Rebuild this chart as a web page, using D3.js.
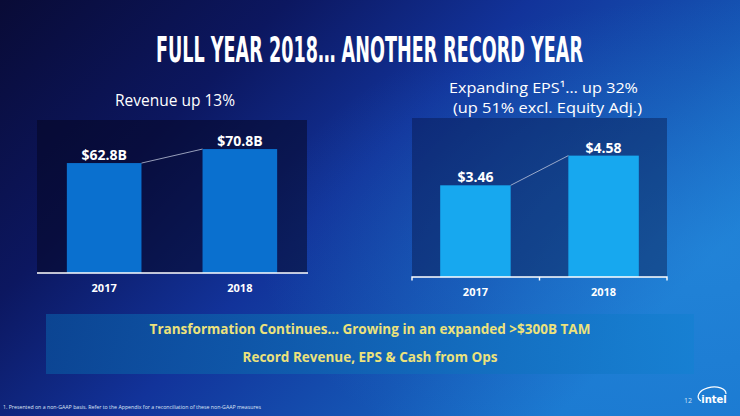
<!DOCTYPE html>
<html><head><meta charset="utf-8">
<script src="https://cdn.jsdelivr.net/npm/d3@7/dist/d3.min.js"></script>
<style>html,body{margin:0;padding:0;background:#0b0f40;}svg{display:block;}</style>
</head><body>
<div id="chart"></div>
<script>
// ---- data ----
const years = ["2017", "2018"];
const revenueValues = [62.8, 70.8];
const revenueLabels = ["$62.8B", "$70.8B"];
const epsValues = [3.46, 4.58];
const epsLabels = ["$3.46", "$4.58"];
const titleText = "FULL YEAR 2018… ANOTHER RECORD YEAR";
const revenueTitle = "Revenue up 13%";
const epsTitle1 = "Expanding EPS¹… up 32%";
const epsTitle2 = "(up 51% excl. Equity Adj.)";
const bannerLines = ["Transformation Continues… Growing in an expanded >$300B TAM", "Record Revenue, EPS & Cash from Ops"];
const footnote = "1. Presented on a non-GAAP basis. Refer to the Appendix for a reconciliation of these non-GAAP measures";
const pageNumber = "12";

const W = 740, H = 416;
const svg = d3.select("#chart").append("svg").attr("width", W).attr("height", H);
const defs = svg.append("defs");

const bg = defs.append("linearGradient").attr("id", "bg").attr("x1", 0).attr("y1", 0).attr("x2", 1).attr("y2", 0.55);
[[0, "#090b36"], [0.3, "#0c1760"], [0.55, "#12339a"], [0.8, "#1555b4"], [1, "#1a78d0"]].forEach(s => bg.append("stop").attr("offset", s[0]).attr("stop-color", s[1]));
const glow = defs.append("radialGradient").attr("id", "glow").attr("cx", 0.95).attr("cy", 0.6).attr("r", 0.6);
glow.append("stop").attr("offset", 0).attr("stop-color", "#2a90e0").attr("stop-opacity", 0.45);
glow.append("stop").attr("offset", 1).attr("stop-color", "#2a90e0").attr("stop-opacity", 0);
const ban = defs.append("linearGradient").attr("id", "ban").attr("x1", 0).attr("x2", 1);
ban.append("stop").attr("offset", 0).attr("stop-color", "#0b4b98");
ban.append("stop").attr("offset", 1).attr("stop-color", "#1680d2");

svg.append("rect").attr("width", W).attr("height", H).attr("fill", "url(#bg)");
svg.append("rect").attr("width", W).attr("height", H).attr("fill", "url(#glow)");

const sans = "'Open Sans', 'Noto Sans', sans-serif";

// title: measured then fitted horizontally to the reference width
const title = svg.append("text").attr("x", 0).attr("y", 0)
  .style("font-family", "'Liberation Sans Narrow', 'DejaVu Sans Condensed', 'Roboto Condensed', 'Liberation Sans', sans-serif")
  .style("font-weight", "bold").style("font-size", "36px").attr("fill", "#fff")
  .text(titleText);
const tw = title.node().getComputedTextLength();
title.attr("transform", `translate(156,62) scale(${427 / tw},1)`);

function drawChart(cfg) {
  const g = svg.append("g");
  const x = d3.scaleBand().domain(years).range([cfg.left, cfg.right]).paddingInner(0.45).paddingOuter(0.22);
  const y = d3.scaleLinear().domain([0, cfg.max]).range([cfg.base, cfg.top]);
  g.append("rect").attr("x", cfg.left).attr("y", cfg.top).attr("width", cfg.right - cfg.left).attr("height", cfg.base - cfg.top)
    .attr("fill", cfg.panel);
  g.selectAll("rect.bar").data(cfg.values).join("rect").attr("class", "bar")
    .attr("x", (d, i) => x(years[i])).attr("width", x.bandwidth())
    .attr("y", d => y(d)).attr("height", d => y(0) - y(d)).attr("fill", cfg.color);
  // connector
  g.append("line")
    .attr("x1", x(years[0]) + x.bandwidth()).attr("y1", y(cfg.values[0]))
    .attr("x2", x(years[1])).attr("y2", y(cfg.values[1]))
    .attr("stroke", "#c4cbe0").attr("stroke-width", 0.9).attr("opacity", 0.85);
  g.selectAll("text.val").data(cfg.labels).join("text").attr("class", "val")
    .attr("x", (d, i) => x(years[i]) + x.bandwidth() / 2).attr("y", (d, i) => y(cfg.values[i]) - 3)
    .attr("text-anchor", "middle").attr("fill", "#fff").style("font-family", sans).style("font-weight", "bold").style("font-size", "14px")
    .text(d => d);
  // axis
  const axis = g.append("g").attr("transform", `translate(0,${cfg.base})`)
    .call(d3.axisBottom(x).tickSize(0).tickPadding(11));
  axis.select(".domain").remove();
  axis.selectAll("text").attr("fill", "#fff").style("font-family", sans).style("font-weight", "bold").style("font-size", "11px");
  if (cfg.bracket) {
    const mid = (cfg.left + cfg.right) / 2;
    axis.append("path").attr("d", `M${cfg.left},3.5V0H${cfg.right}V3.5M${mid},0V3.5`)
      .attr("fill", "none").attr("stroke", "#fff").attr("stroke-width", 1.4);
  } else {
    axis.append("line").attr("x1", cfg.left).attr("x2", cfg.right + 1).attr("stroke", "#fff").attr("stroke-width", 1.5);
  }
}

drawChart({left: 37, right: 307, top: 120, base: 273, max: 87.4, values: revenueValues, labels: revenueLabels,
  color: "#0a70cf", panel: "rgba(4,4,30,0.5)", bracket: false});
drawChart({left: 412, right: 667, top: 118, base: 277, max: 6.0, values: epsValues, labels: epsLabels,
  color: "#17a8ef", panel: "rgba(8,18,66,0.42)", bracket: true});

// chart titles
svg.append("text").attr("x", 175).attr("y", 106).attr("text-anchor", "middle").attr("fill", "#fff")
  .style("font-family", sans).style("font-size", "15.5px").text(revenueTitle);
svg.append("text").attr("x", 449).attr("y", 92.5).attr("textLength", 189).attr("lengthAdjust", "spacingAndGlyphs").attr("fill", "#fff")
  .style("font-family", sans).style("font-size", "14.5px").text(epsTitle1);
svg.append("text").attr("x", 453).attr("y", 112.5).attr("textLength", 189).attr("lengthAdjust", "spacingAndGlyphs").attr("fill", "#fff")
  .style("font-family", sans).style("font-size", "14.5px").text(epsTitle2);

// banner
svg.append("rect").attr("x", 46).attr("y", 314).attr("width", 648).attr("height", 60).attr("fill", "url(#ban)").attr("opacity", 0.85);
svg.selectAll("text.ban").data(bannerLines).join("text").attr("class", "ban")
  .attr("x", 370).attr("y", (d, i) => 334 + i * 28).attr("text-anchor", "middle")
  .attr("fill", "#ece27c").style("font-family", sans).style("font-weight", "bold").style("font-size", "13.5px").text(d => d);

// footer
svg.append("text").attr("x", 3).attr("y", 409).attr("textLength", 258).attr("lengthAdjust", "spacingAndGlyphs")
  .attr("fill", "#dfe6f5").style("font-family", sans).style("font-size", "4.6px").text(footnote);
svg.append("text").attr("x", 688).attr("y", 403).attr("text-anchor", "middle").attr("fill", "#cfe0f5")
  .style("font-family", sans).style("font-size", "7px").text(pageNumber);
// intel logo
const logo = svg.append("g").attr("transform", "translate(714,400)");
logo.append("path").attr("d", "M-13,1 A14,8 -8 1 1 12,-6")
  .attr("fill", "none").attr("stroke", "#fff").attr("stroke-width", 1.2);
logo.append("text").attr("x", 0).attr("y", 3).attr("text-anchor", "middle").attr("fill", "#fff")
  .style("font-family", "'DejaVu Sans', sans-serif").style("font-size", "10px").style("font-weight", "bold").text("intel");
</script>
</body></html>
